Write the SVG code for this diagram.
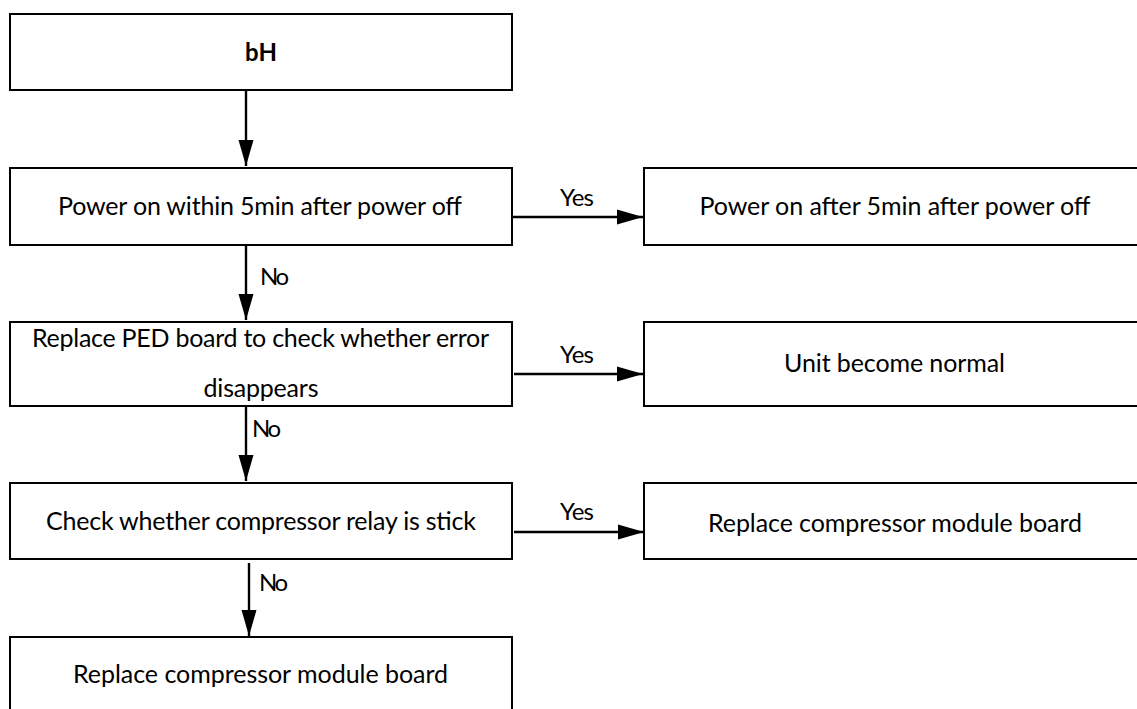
<svg xmlns="http://www.w3.org/2000/svg" width="1137" height="709" viewBox="0 0 1137 709">
  <style>
    .box { fill: #ffffff; stroke: #000000; stroke-width: 2; }
    .conn { fill: none; stroke: #000000; stroke-width: 2.4; }
    .t { font-family: Lato, "Open Sans", "Liberation Sans", sans-serif; font-size: 25px; fill: #000000; text-anchor: middle; }
    .lbl { font-family: Lato, "Open Sans", "Liberation Sans", sans-serif; font-size: 24px; fill: #000000; }
    .b { font-weight: bold; font-size: 24px; }
  </style>
  <defs>
    <marker id="arrow" markerUnits="userSpaceOnUse" markerWidth="26" markerHeight="16" refX="26" refY="8" orient="auto">
      <path d="M0,0.5 L26,8 L0,15.5 z" fill="#000000"/>
    </marker>
  </defs>
  <rect width="1137" height="709" fill="#ffffff"/>

  <g id="n1">
    <rect class="box" x="10" y="14" width="502" height="76"/>
    <text class="t b" x="261" y="61">bH</text>
  </g>
  <g id="n2">
    <rect class="box" x="10" y="168" width="502" height="77"/>
    <text class="t" x="260" y="215" textLength="404">Power on within 5min after power off</text>
  </g>
  <g id="n3">
    <rect class="box" x="644" y="168" width="502" height="77"/>
    <text class="t" x="895" y="215" textLength="391">Power on after 5min after power off</text>
  </g>
  <g id="n4">
    <rect class="box" x="10" y="322" width="502" height="84"/>
    <text class="t" x="260.5" y="347" textLength="457">Replace PED board to check whether error</text>
    <text class="t" x="261" y="397" textLength="115">disappears</text>
  </g>
  <g id="n5">
    <rect class="box" x="644" y="322" width="502" height="84"/>
    <text class="t" x="894.5" y="372" textLength="221">Unit become normal</text>
  </g>
  <g id="n6">
    <rect class="box" x="10" y="483" width="502" height="76"/>
    <text class="t" x="261" y="530" textLength="430">Check whether compressor relay is stick</text>
  </g>
  <g id="n7">
    <rect class="box" x="644" y="483" width="502" height="76"/>
    <text class="t" x="895" y="532" textLength="374">Replace compressor module board</text>
  </g>
  <g id="n8">
    <rect class="box" x="10" y="637" width="502" height="90"/>
    <text class="t" x="260.5" y="683" textLength="375">Replace compressor module board</text>
  </g>

  <g id="connectors">
    <path class="conn" d="M246,90 V166" marker-end="url(#arrow)"/>
    <path class="conn" d="M246,245 V320" marker-end="url(#arrow)"/>
    <path class="conn" d="M246,406 V481" marker-end="url(#arrow)"/>
    <path class="conn" d="M249,563 V636" marker-end="url(#arrow)"/>
    <path class="conn" d="M512,217 H643" marker-end="url(#arrow)"/>
    <path class="conn" d="M514,374 H643" marker-end="url(#arrow)"/>
    <path class="conn" d="M514,532 H644" marker-end="url(#arrow)"/>
    <text class="lbl" x="560" y="206" textLength="34">Yes</text>
    <text class="lbl" x="560" y="363" textLength="34">Yes</text>
    <text class="lbl" x="560" y="520" textLength="34">Yes</text>
    <text class="lbl" x="260" y="285" textLength="29">No</text>
    <text class="lbl" x="252" y="437" textLength="29">No</text>
    <text class="lbl" x="259" y="591" textLength="29">No</text>
  </g>
</svg>
